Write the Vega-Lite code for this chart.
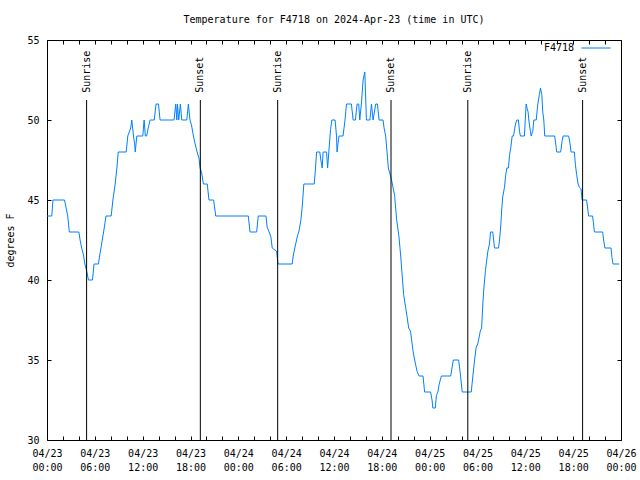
{
  "$schema": "https://vega.github.io/schema/vega-lite/v6.json",
  "width": 574,
  "height": 400,
  "autosize": {"type": "none"},
  "padding": {"left": 47, "top": 40, "right": 19, "bottom": 40},
  "background": "white",
  "config": {
    "view": {"stroke": "black", "strokeWidth": 1},
    "font": "DejaVu Sans Mono"
  },
  "title": {
    "text": "Temperature for F4718 on 2024-Apr-23 (time in UTC)",
    "font": "DejaVu Sans Mono",
    "fontSize": 10,
    "fontWeight": "normal",
    "color": "black",
    "anchor": "middle",
    "offset": 8
  },
  "datasets": {
    "temps": [
      {"time": "2024-04-23T00:00:00Z", "temp": 44},
      {"time": "2024-04-23T00:36:00Z", "temp": 44},
      {"time": "2024-04-23T00:45:00Z", "temp": 45},
      {"time": "2024-04-23T02:12:00Z", "temp": 45},
      {"time": "2024-04-23T02:24:00Z", "temp": 44.5},
      {"time": "2024-04-23T02:36:00Z", "temp": 44},
      {"time": "2024-04-23T02:48:00Z", "temp": 43},
      {"time": "2024-04-23T04:00:00Z", "temp": 43},
      {"time": "2024-04-23T04:09:00Z", "temp": 42.5},
      {"time": "2024-04-23T04:21:00Z", "temp": 42},
      {"time": "2024-04-23T04:36:00Z", "temp": 41.5},
      {"time": "2024-04-23T04:45:00Z", "temp": 41},
      {"time": "2024-04-23T05:00:00Z", "temp": 40.5},
      {"time": "2024-04-23T05:12:00Z", "temp": 40},
      {"time": "2024-04-23T05:42:00Z", "temp": 40},
      {"time": "2024-04-23T05:54:00Z", "temp": 41},
      {"time": "2024-04-23T06:27:00Z", "temp": 41},
      {"time": "2024-04-23T06:36:00Z", "temp": 41.5},
      {"time": "2024-04-23T06:46:00Z", "temp": 42},
      {"time": "2024-04-23T07:06:00Z", "temp": 43},
      {"time": "2024-04-23T07:24:00Z", "temp": 44},
      {"time": "2024-04-23T08:03:00Z", "temp": 44},
      {"time": "2024-04-23T08:16:00Z", "temp": 45},
      {"time": "2024-04-23T08:33:00Z", "temp": 46},
      {"time": "2024-04-23T08:46:00Z", "temp": 47},
      {"time": "2024-04-23T08:56:00Z", "temp": 48},
      {"time": "2024-04-23T09:56:00Z", "temp": 48},
      {"time": "2024-04-23T10:08:00Z", "temp": 49},
      {"time": "2024-04-23T10:30:00Z", "temp": 49.5},
      {"time": "2024-04-23T10:38:00Z", "temp": 50},
      {"time": "2024-04-23T10:51:00Z", "temp": 49},
      {"time": "2024-04-23T11:00:00Z", "temp": 48.5},
      {"time": "2024-04-23T11:04:00Z", "temp": 48},
      {"time": "2024-04-23T11:16:00Z", "temp": 49},
      {"time": "2024-04-23T12:01:00Z", "temp": 49},
      {"time": "2024-04-23T12:11:00Z", "temp": 50},
      {"time": "2024-04-23T12:20:00Z", "temp": 49},
      {"time": "2024-04-23T12:30:00Z", "temp": 49},
      {"time": "2024-04-23T12:42:00Z", "temp": 49.5},
      {"time": "2024-04-23T12:56:00Z", "temp": 50},
      {"time": "2024-04-23T13:27:00Z", "temp": 50},
      {"time": "2024-04-23T13:41:00Z", "temp": 51},
      {"time": "2024-04-23T13:59:00Z", "temp": 51},
      {"time": "2024-04-23T14:11:00Z", "temp": 50},
      {"time": "2024-04-23T15:56:00Z", "temp": 50},
      {"time": "2024-04-23T16:09:00Z", "temp": 51},
      {"time": "2024-04-23T16:17:00Z", "temp": 50},
      {"time": "2024-04-23T16:22:00Z", "temp": 51},
      {"time": "2024-04-23T16:31:00Z", "temp": 50},
      {"time": "2024-04-23T16:44:00Z", "temp": 51},
      {"time": "2024-04-23T16:54:00Z", "temp": 50},
      {"time": "2024-04-23T17:32:00Z", "temp": 50},
      {"time": "2024-04-23T17:44:00Z", "temp": 51},
      {"time": "2024-04-23T17:56:00Z", "temp": 50},
      {"time": "2024-04-23T18:07:00Z", "temp": 49.7},
      {"time": "2024-04-23T18:22:00Z", "temp": 49},
      {"time": "2024-04-23T18:35:00Z", "temp": 48.5},
      {"time": "2024-04-23T18:50:00Z", "temp": 48},
      {"time": "2024-04-23T19:04:00Z", "temp": 47.6},
      {"time": "2024-04-23T19:12:00Z", "temp": 47},
      {"time": "2024-04-23T19:24:00Z", "temp": 46.7},
      {"time": "2024-04-23T19:37:00Z", "temp": 46},
      {"time": "2024-04-23T20:06:00Z", "temp": 46},
      {"time": "2024-04-23T20:19:00Z", "temp": 45},
      {"time": "2024-04-23T20:54:00Z", "temp": 45},
      {"time": "2024-04-23T21:10:00Z", "temp": 44},
      {"time": "2024-04-24T01:15:00Z", "temp": 44},
      {"time": "2024-04-24T01:28:00Z", "temp": 43},
      {"time": "2024-04-24T02:18:00Z", "temp": 43},
      {"time": "2024-04-24T02:30:00Z", "temp": 44},
      {"time": "2024-04-24T03:28:00Z", "temp": 44},
      {"time": "2024-04-24T03:37:00Z", "temp": 43.3},
      {"time": "2024-04-24T03:52:00Z", "temp": 43},
      {"time": "2024-04-24T04:05:00Z", "temp": 42.7},
      {"time": "2024-04-24T04:15:00Z", "temp": 42},
      {"time": "2024-04-24T04:48:00Z", "temp": 41.8},
      {"time": "2024-04-24T04:56:00Z", "temp": 41.2},
      {"time": "2024-04-24T05:00:00Z", "temp": 41},
      {"time": "2024-04-24T06:45:00Z", "temp": 41},
      {"time": "2024-04-24T06:53:00Z", "temp": 41.5},
      {"time": "2024-04-24T07:05:00Z", "temp": 42},
      {"time": "2024-04-24T07:26:00Z", "temp": 42.8},
      {"time": "2024-04-24T07:35:00Z", "temp": 43},
      {"time": "2024-04-24T07:50:00Z", "temp": 43.7},
      {"time": "2024-04-24T08:00:00Z", "temp": 44.5},
      {"time": "2024-04-24T08:13:00Z", "temp": 46},
      {"time": "2024-04-24T09:31:00Z", "temp": 46},
      {"time": "2024-04-24T09:41:00Z", "temp": 47},
      {"time": "2024-04-24T09:49:00Z", "temp": 48},
      {"time": "2024-04-24T10:13:00Z", "temp": 48},
      {"time": "2024-04-24T10:21:00Z", "temp": 47.5},
      {"time": "2024-04-24T10:31:00Z", "temp": 47},
      {"time": "2024-04-24T10:38:00Z", "temp": 48},
      {"time": "2024-04-24T11:04:00Z", "temp": 48},
      {"time": "2024-04-24T11:12:00Z", "temp": 47},
      {"time": "2024-04-24T11:21:00Z", "temp": 48},
      {"time": "2024-04-24T11:34:00Z", "temp": 49.4},
      {"time": "2024-04-24T11:44:00Z", "temp": 50},
      {"time": "2024-04-24T12:08:00Z", "temp": 50},
      {"time": "2024-04-24T12:19:00Z", "temp": 49},
      {"time": "2024-04-24T12:23:00Z", "temp": 48},
      {"time": "2024-04-24T12:34:00Z", "temp": 48.8},
      {"time": "2024-04-24T12:38:00Z", "temp": 49},
      {"time": "2024-04-24T13:08:00Z", "temp": 49},
      {"time": "2024-04-24T13:23:00Z", "temp": 50},
      {"time": "2024-04-24T13:34:00Z", "temp": 51},
      {"time": "2024-04-24T14:11:00Z", "temp": 51},
      {"time": "2024-04-24T14:24:00Z", "temp": 50},
      {"time": "2024-04-24T14:41:00Z", "temp": 50},
      {"time": "2024-04-24T14:54:00Z", "temp": 51},
      {"time": "2024-04-24T15:06:00Z", "temp": 51},
      {"time": "2024-04-24T15:14:00Z", "temp": 50},
      {"time": "2024-04-24T15:26:00Z", "temp": 51},
      {"time": "2024-04-24T15:39:00Z", "temp": 52.5},
      {"time": "2024-04-24T15:52:00Z", "temp": 53},
      {"time": "2024-04-24T16:04:00Z", "temp": 50},
      {"time": "2024-04-24T16:30:00Z", "temp": 50},
      {"time": "2024-04-24T16:42:00Z", "temp": 51},
      {"time": "2024-04-24T16:54:00Z", "temp": 50},
      {"time": "2024-04-24T17:14:00Z", "temp": 51},
      {"time": "2024-04-24T17:27:00Z", "temp": 51},
      {"time": "2024-04-24T17:39:00Z", "temp": 50},
      {"time": "2024-04-24T18:09:00Z", "temp": 50},
      {"time": "2024-04-24T18:17:00Z", "temp": 49.5},
      {"time": "2024-04-24T18:29:00Z", "temp": 49},
      {"time": "2024-04-24T18:49:00Z", "temp": 47},
      {"time": "2024-04-24T19:12:00Z", "temp": 46.3},
      {"time": "2024-04-24T19:36:00Z", "temp": 45.3},
      {"time": "2024-04-24T19:51:00Z", "temp": 43.8},
      {"time": "2024-04-24T20:09:00Z", "temp": 42.7},
      {"time": "2024-04-24T20:22:00Z", "temp": 41.5},
      {"time": "2024-04-24T20:32:00Z", "temp": 40.4},
      {"time": "2024-04-24T20:44:00Z", "temp": 39.1},
      {"time": "2024-04-24T20:59:00Z", "temp": 38.3},
      {"time": "2024-04-24T21:10:00Z", "temp": 37.7},
      {"time": "2024-04-24T21:22:00Z", "temp": 37},
      {"time": "2024-04-24T21:36:00Z", "temp": 36.8},
      {"time": "2024-04-24T21:54:00Z", "temp": 35.6},
      {"time": "2024-04-24T22:07:00Z", "temp": 35},
      {"time": "2024-04-24T22:25:00Z", "temp": 34.3},
      {"time": "2024-04-24T22:40:00Z", "temp": 34},
      {"time": "2024-04-24T23:10:00Z", "temp": 34},
      {"time": "2024-04-24T23:22:00Z", "temp": 33},
      {"time": "2024-04-25T00:07:00Z", "temp": 33},
      {"time": "2024-04-25T00:18:00Z", "temp": 32.5},
      {"time": "2024-04-25T00:24:00Z", "temp": 32},
      {"time": "2024-04-25T00:42:00Z", "temp": 32},
      {"time": "2024-04-25T00:51:00Z", "temp": 32.8},
      {"time": "2024-04-25T01:02:00Z", "temp": 33},
      {"time": "2024-04-25T01:12:00Z", "temp": 33.5},
      {"time": "2024-04-25T01:28:00Z", "temp": 34},
      {"time": "2024-04-25T02:38:00Z", "temp": 34},
      {"time": "2024-04-25T02:48:00Z", "temp": 34.5},
      {"time": "2024-04-25T02:58:00Z", "temp": 35},
      {"time": "2024-04-25T03:38:00Z", "temp": 35},
      {"time": "2024-04-25T03:50:00Z", "temp": 34.2},
      {"time": "2024-04-25T04:05:00Z", "temp": 33},
      {"time": "2024-04-25T05:13:00Z", "temp": 33},
      {"time": "2024-04-25T05:25:00Z", "temp": 34},
      {"time": "2024-04-25T05:38:00Z", "temp": 35},
      {"time": "2024-04-25T05:50:00Z", "temp": 35.8},
      {"time": "2024-04-25T06:02:00Z", "temp": 36},
      {"time": "2024-04-25T06:21:00Z", "temp": 36.8},
      {"time": "2024-04-25T06:31:00Z", "temp": 37},
      {"time": "2024-04-25T06:40:00Z", "temp": 38.5},
      {"time": "2024-04-25T06:48:00Z", "temp": 39.5},
      {"time": "2024-04-25T07:00:00Z", "temp": 40.6},
      {"time": "2024-04-25T07:18:00Z", "temp": 41.8},
      {"time": "2024-04-25T07:30:00Z", "temp": 42.25},
      {"time": "2024-04-25T07:38:00Z", "temp": 43},
      {"time": "2024-04-25T07:55:00Z", "temp": 43},
      {"time": "2024-04-25T08:08:00Z", "temp": 42},
      {"time": "2024-04-25T08:38:00Z", "temp": 42},
      {"time": "2024-04-25T08:46:00Z", "temp": 42.5},
      {"time": "2024-04-25T08:56:00Z", "temp": 43.5},
      {"time": "2024-04-25T09:03:00Z", "temp": 44.5},
      {"time": "2024-04-25T09:10:00Z", "temp": 45.2},
      {"time": "2024-04-25T09:23:00Z", "temp": 45.8},
      {"time": "2024-04-25T09:33:00Z", "temp": 46.6},
      {"time": "2024-04-25T09:41:00Z", "temp": 47},
      {"time": "2024-04-25T09:53:00Z", "temp": 47},
      {"time": "2024-04-25T10:01:00Z", "temp": 47.8},
      {"time": "2024-04-25T10:11:00Z", "temp": 48.3},
      {"time": "2024-04-25T10:21:00Z", "temp": 49},
      {"time": "2024-04-25T10:31:00Z", "temp": 49},
      {"time": "2024-04-25T10:46:00Z", "temp": 49.75},
      {"time": "2024-04-25T10:56:00Z", "temp": 50},
      {"time": "2024-04-25T11:08:00Z", "temp": 50},
      {"time": "2024-04-25T11:16:00Z", "temp": 49.3},
      {"time": "2024-04-25T11:23:00Z", "temp": 49},
      {"time": "2024-04-25T11:53:00Z", "temp": 49},
      {"time": "2024-04-25T12:06:00Z", "temp": 51},
      {"time": "2024-04-25T12:14:00Z", "temp": 50.7},
      {"time": "2024-04-25T12:21:00Z", "temp": 50.5},
      {"time": "2024-04-25T12:26:00Z", "temp": 50},
      {"time": "2024-04-25T12:38:00Z", "temp": 49.3},
      {"time": "2024-04-25T12:44:00Z", "temp": 49},
      {"time": "2024-04-25T12:56:00Z", "temp": 49.3},
      {"time": "2024-04-25T13:04:00Z", "temp": 50},
      {"time": "2024-04-25T13:22:00Z", "temp": 50},
      {"time": "2024-04-25T13:34:00Z", "temp": 51},
      {"time": "2024-04-25T13:46:00Z", "temp": 51.6},
      {"time": "2024-04-25T13:54:00Z", "temp": 52},
      {"time": "2024-04-25T14:04:00Z", "temp": 51.6},
      {"time": "2024-04-25T14:11:00Z", "temp": 50.5},
      {"time": "2024-04-25T14:19:00Z", "temp": 50},
      {"time": "2024-04-25T14:26:00Z", "temp": 49},
      {"time": "2024-04-25T15:41:00Z", "temp": 49},
      {"time": "2024-04-25T15:52:00Z", "temp": 48.3},
      {"time": "2024-04-25T15:56:00Z", "temp": 48},
      {"time": "2024-04-25T16:26:00Z", "temp": 48},
      {"time": "2024-04-25T16:37:00Z", "temp": 48.7},
      {"time": "2024-04-25T16:44:00Z", "temp": 49},
      {"time": "2024-04-25T17:26:00Z", "temp": 49},
      {"time": "2024-04-25T17:37:00Z", "temp": 48.5},
      {"time": "2024-04-25T17:44:00Z", "temp": 48},
      {"time": "2024-04-25T18:09:00Z", "temp": 48},
      {"time": "2024-04-25T18:17:00Z", "temp": 47.2},
      {"time": "2024-04-25T18:26:00Z", "temp": 46.6},
      {"time": "2024-04-25T18:37:00Z", "temp": 46},
      {"time": "2024-04-25T18:47:00Z", "temp": 45.8},
      {"time": "2024-04-25T18:59:00Z", "temp": 45.7},
      {"time": "2024-04-25T19:07:00Z", "temp": 45},
      {"time": "2024-04-25T19:41:00Z", "temp": 45},
      {"time": "2024-04-25T19:49:00Z", "temp": 44.5},
      {"time": "2024-04-25T19:56:00Z", "temp": 44},
      {"time": "2024-04-25T20:26:00Z", "temp": 44},
      {"time": "2024-04-25T20:32:00Z", "temp": 43.6},
      {"time": "2024-04-25T20:40:00Z", "temp": 43},
      {"time": "2024-04-25T21:42:00Z", "temp": 43},
      {"time": "2024-04-25T21:49:00Z", "temp": 42.5},
      {"time": "2024-04-25T21:59:00Z", "temp": 42},
      {"time": "2024-04-25T22:45:00Z", "temp": 42},
      {"time": "2024-04-25T22:52:00Z", "temp": 41.4},
      {"time": "2024-04-25T23:00:00Z", "temp": 41},
      {"time": "2024-04-25T23:47:00Z", "temp": 41}
    ],
    "sun": [
      {"time": "2024-04-23T04:58:00Z", "event": "Sunrise"},
      {"time": "2024-04-23T19:14:00Z", "event": "Sunset"},
      {"time": "2024-04-24T04:56:00Z", "event": "Sunrise"},
      {"time": "2024-04-24T19:09:00Z", "event": "Sunset"},
      {"time": "2024-04-25T04:47:00Z", "event": "Sunrise"},
      {"time": "2024-04-25T19:11:00Z", "event": "Sunset"}
    ]
  },
  "layer": [
    {
      "data": {"name": "temps"},
      "mark": {"type": "line", "strokeWidth": 1, "interpolate": "linear", "clip": true},
      "encoding": {
        "x": {
          "field": "time",
          "type": "temporal",
          "title": null,
          "scale": {
            "type": "utc",
            "domain": [1713830400000, 1714089600000]
          },
          "axis": {
            "orient": "bottom",
            "title": null,
            "grid": false,
            "domain": false,
            "values": [1713830400000, 1713837600000, 1713844800000, 1713852000000, 1713859200000, 1713866400000, 1713873600000, 1713880800000, 1713888000000, 1713895200000, 1713902400000, 1713909600000, 1713916800000, 1713924000000, 1713931200000, 1713938400000, 1713945600000, 1713952800000, 1713960000000, 1713967200000, 1713974400000, 1713981600000, 1713988800000, 1713996000000, 1714003200000, 1714010400000, 1714017600000, 1714024800000, 1714032000000, 1714039200000, 1714046400000, 1714053600000, 1714060800000, 1714068000000, 1714075200000, 1714082400000, 1714089600000],
            "tickSize": -4,
            "tickColor": "black",
            "tickWidth": 1,
            "labelExpr": "utchours(datum.value) % 6 === 0 ? [utcFormat(datum.value, '%m/%d'), utcFormat(datum.value, '%H:%M')] : ''",
            "labelFont": "DejaVu Sans Mono",
            "labelFontSize": 10,
            "labelColor": "black",
            "labelBaseline": "top",
            "labelLineHeight": 14,
            "labelPadding": 12,
            "labelOverlap": false,
            "labelFlush": false
          }
        },
        "y": {
          "field": "temp",
          "type": "quantitative",
          "title": "degrees F",
          "scale": {"domain": [30, 55], "nice": false, "zero": false},
          "axis": {
            "orient": "left",
            "grid": false,
            "domain": false,
            "values": [30, 35, 40, 45, 50, 55],
            "tickSize": -4,
            "tickColor": "black",
            "labelFont": "DejaVu Sans Mono",
            "labelFontSize": 10,
            "labelColor": "black",
            "labelPadding": 12,
            "titleFont": "DejaVu Sans Mono",
            "titleFontSize": 10,
            "titleFontWeight": "normal",
            "titleColor": "black",
            "titlePadding": 11
          }
        },
        "color": {
          "datum": "F4718",
          "scale": {"range": ["#0080ff"]},
          "legend": {
            "title": null,
            "orient": "none",
            "legendX": 534,
            "legendY": -7,
            "padding": 0,
            "symbolType": "stroke",
            "symbolSize": 841,
            "symbolStrokeWidth": 1,
            "labelFont": "DejaVu Sans Mono",
            "labelFontSize": 10,
            "labelColor": "black",
            "labelAlign": "right",
            "labelOffset": -37
          }
        }
      }
    },
    {
      "data": {"name": "sun"},
      "mark": {"type": "rule", "color": "black", "strokeWidth": 1},
      "encoding": {
        "x": {"field": "time", "type": "temporal", "axis": null},
        "y": {"datum": 30, "axis": null},
        "y2": {"datum": 51.25}
      }
    },
    {
      "data": {"name": "sun"},
      "mark": {
        "type": "text",
        "angle": 270,
        "align": "left",
        "baseline": "middle",
        "font": "DejaVu Sans Mono",
        "fontSize": 10,
        "color": "black"
      },
      "encoding": {
        "x": {"field": "time", "type": "temporal", "axis": null},
        "y": {"datum": 51.7, "axis": null},
        "text": {"field": "event"}
      }
    },
    {
      "data": {"name": "temps"},
      "mark": {"type": "line", "opacity": 0},
      "encoding": {
        "x": {
          "field": "time",
          "type": "temporal",
          "axis": {
            "orient": "top",
            "title": null,
            "labels": false,
            "grid": false,
            "domain": false,
            "values": [1713830400000, 1713837600000, 1713844800000, 1713852000000, 1713859200000, 1713866400000, 1713873600000, 1713880800000, 1713888000000, 1713895200000, 1713902400000, 1713909600000, 1713916800000, 1713924000000, 1713931200000, 1713938400000, 1713945600000, 1713952800000, 1713960000000, 1713967200000, 1713974400000, 1713981600000, 1713988800000, 1713996000000, 1714003200000, 1714010400000, 1714017600000, 1714024800000, 1714032000000, 1714039200000, 1714046400000, 1714053600000, 1714060800000, 1714068000000, 1714075200000, 1714082400000, 1714089600000],
            "tickSize": -4,
            "tickColor": "black"
          }
        },
        "y": {
          "field": "temp",
          "type": "quantitative",
          "axis": {
            "orient": "right",
            "title": null,
            "labels": false,
            "grid": false,
            "domain": false,
            "values": [30, 35, 40, 45, 50, 55],
            "tickSize": -4,
            "tickColor": "black"
          }
        }
      }
    }
  ],
  "resolve": {"axis": {"x": "independent", "y": "independent"}}
}
